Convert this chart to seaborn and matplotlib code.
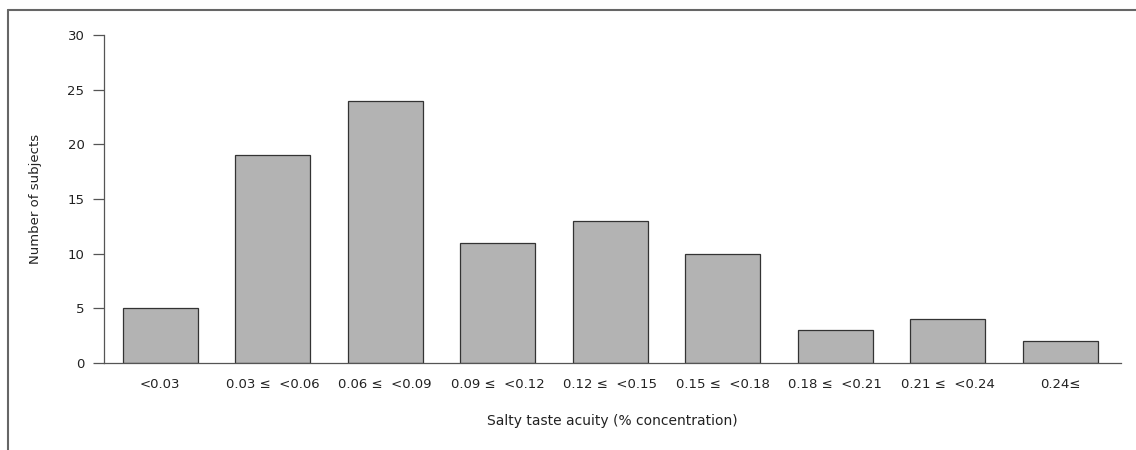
import matplotlib
matplotlib.use("Agg")
import matplotlib.pyplot as plt
import seaborn as sns
import pandas as pd
from matplotlib.lines import Line2D

categories = ["<0.03", "0.03 \u2264  <0.06", "0.06 \u2264  <0.09", "0.09 \u2264  <0.12",
              "0.12 \u2264  <0.15", "0.15 \u2264  <0.18", "0.18 \u2264  <0.21",
              "0.21 \u2264  <0.24", "0.24\u2264"]
subjects = [5, 19, 24, 11, 13, 10, 3, 4, 2]
yticks = [0, 5, 10, 15, 20, 25, 30]

df = pd.DataFrame({"acuity": categories, "n": subjects})

sns.set_style("white")
plt.rcParams['font.family'] = ['DejaVu Sans']
plt.rcParams['text.color'] = '#222222'
plt.rcParams['axes.labelcolor'] = '#222222'
plt.rcParams['xtick.color'] = '#222222'
plt.rcParams['ytick.color'] = '#222222'

fig = plt.figure(figsize=(11.36, 4.5), dpi=100)
ax = fig.add_axes([0.0915, 0.1933, 0.8953, 0.7289])

sns.barplot(data=df, x="acuity", y="n", color="#b3b3b3", saturation=1,
            width=0.667, edgecolor="#333333", linewidth=0.9, ax=ax)

ax.set_xlim(-0.5, 8.54)
ax.set_ylim(0, 30)
ax.set_yticks(yticks)
ax.tick_params(axis="y", length=8, width=0.9, color="#555555", labelsize=9.5,
               left=True, pad=6)
ax.tick_params(axis="x", length=0, labelsize=9.5, pad=11)
for s in ["top", "right"]:
    ax.spines[s].set_visible(False)
for s in ["left", "bottom"]:
    ax.spines[s].set_color("#555555")
    ax.spines[s].set_linewidth(0.9)

ax.set_ylabel("Number of subjects", fontsize=9.5, labelpad=18)
ax.set_xlabel("Salty taste acuity (% concentration)", fontsize=10, labelpad=16)

# outer frame (top and left edges)
fig.add_artist(Line2D([8 / 1136, 1], [1 - 10 / 450, 1 - 10 / 450],
                      transform=fig.transFigure, color="#666666", lw=1.5))
fig.add_artist(Line2D([8 / 1136, 8 / 1136], [0, 1 - 10 / 450],
                      transform=fig.transFigure, color="#666666", lw=1.5))

fig.savefig("out.png", dpi=100)
